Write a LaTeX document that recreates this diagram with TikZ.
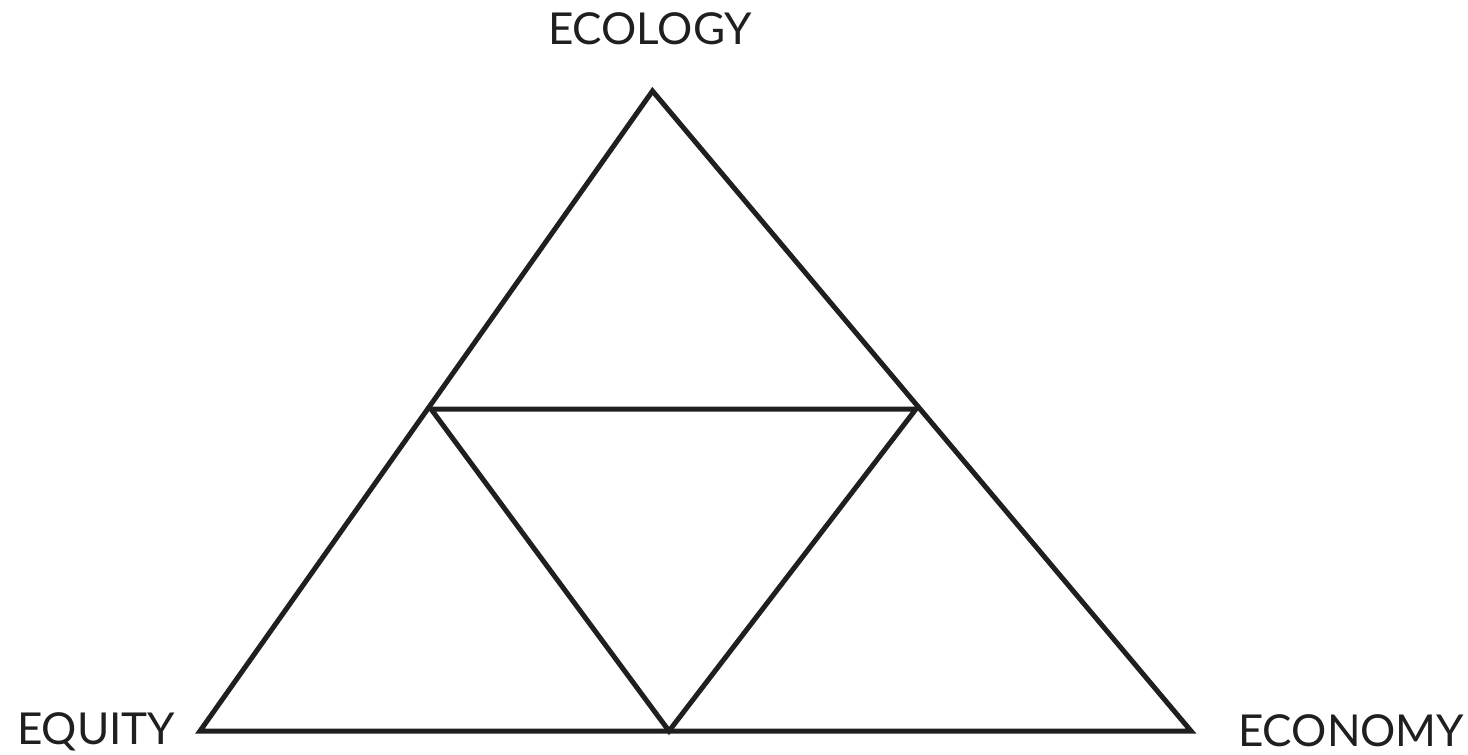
\documentclass[tikz,border=0pt]{standalone}
\usepackage{fontspec}
\setmainfont{Lato}
\begin{document}
\begin{tikzpicture}[x=1pt,y=-1pt,
  edge/.style={line width=5pt,line join=miter,draw=black!88},
  lbl/.style={font=\fontsize{44}{48}\selectfont,text=black!88,inner sep=0pt}]
\useasboundingbox (0,0) rectangle (1468,755);
\coordinate (T) at (652.5,91);
\coordinate (BL) at (200,731);
\coordinate (BR) at (1191,731);
\coordinate (ML) at (431,409);
\coordinate (MR) at (916,409);
\coordinate (MB) at (669,731);
\draw[edge] (T) -- (BR) -- (BL) -- cycle;
\draw[edge] (ML) -- (MR) -- (MB) -- cycle;
\node[lbl,anchor=base] (eco) at (650,44) {ECOLOGY};
\node[lbl,anchor=base west] (equ) at (17,744) {EQUITY};
\node[lbl,anchor=base west] (econ) at (1238,746) {ECONOMY};
\end{tikzpicture}
\end{document}
